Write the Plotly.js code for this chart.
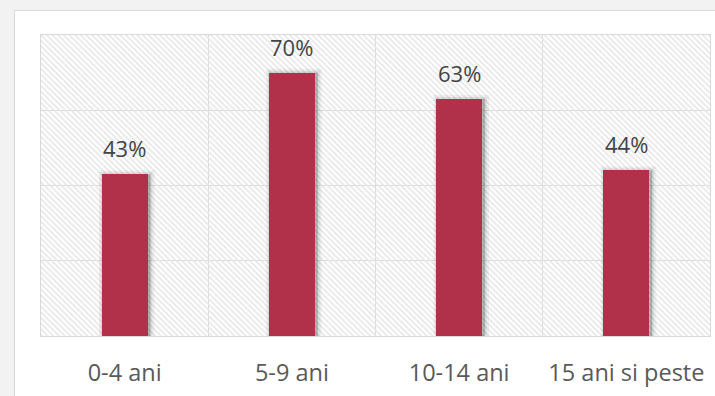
<!DOCTYPE html>
<html>
<head>
<meta charset="utf-8">
<script src="https://cdn.plot.ly/plotly-3.0.1.min.js"></script>
<style>
  html, body { margin:0; padding:0; width:715px; height:396px; overflow:hidden; background:#f2f2f2; }
  #chart { position:absolute; left:14px; top:10px; width:701px; height:386px;
           background:#ffffff; border-left:1px solid #d9d9d9; border-top:1px solid #d9d9d9; }
</style>
</head>
<body>
<div id="chart"></div>
<script>
// ---- data ----
const categories = ["0-4 ani", "5-9 ani", "10-14 ani", "15 ani si peste"];
const values = [43, 70, 63, 44];
const labels = ["43%", "70%", "63%", "44%"];
const yMax = 80;

const pos = categories.map((c, i) => i);
const barColor = "#b1314b";
const barWidth = 0.275;

const background = {
  type: "bar", x: [(pos.length - 1) / 2], y: [yMax], width: [pos.length],
  marker: { color: "rgba(0,0,0,0)", line: { width: 0 },
            pattern: { shape: "\\", fgcolor: "#e6e6e6", bgcolor: "rgba(0,0,0,0)", size: 4, solidity: 0.4 } },
  hoverinfo: "skip", showlegend: false
};
const shadow1 = {
  type: "bar", x: pos, y: values, width: barWidth + 0.01, offset: -barWidth / 2 + 0.008,
  marker: { color: "rgba(0,0,0,0.10)", line: { width: 8, color: "rgba(0,0,0,0.05)" } },
  hoverinfo: "skip", showlegend: false
};
const shadow2 = {
  type: "bar", x: pos, y: values, width: barWidth + 0.01, offset: -barWidth / 2 + 0.006,
  marker: { color: "rgba(0,0,0,0.12)", line: { width: 4, color: "rgba(0,0,0,0.08)" } },
  hoverinfo: "skip", showlegend: false
};
const bars = {
  type: "bar", x: pos, y: values, width: barWidth,
  marker: { color: barColor, line: { width: 0 } },
  hoverinfo: "x+y", showlegend: false
};

const annotations = values.map((v, i) => ({
  x: pos[i], y: v, xref: "x", yref: "y", text: labels[i], showarrow: false,
  yanchor: "bottom", yshift: 9,
  font: { family: "Open Sans", size: 22, color: "#444444" }
}));

const layout = {
  width: 701, height: 386,
  margin: { l: 26, r: 6, t: 24, b: 61 },
  paper_bgcolor: "rgba(0,0,0,0)", plot_bgcolor: "#ffffff",
  barmode: "overlay", bargap: 0,
  showlegend: false,
  xaxis: {
    range: [-0.5, pos.length - 0.5], tickvals: pos, ticktext: categories,
    showgrid: false, zeroline: false, ticks: "",
    showline: true, mirror: true, linecolor: "#d9d9d9", linewidth: 1,
    tickfont: { family: "Open Sans", size: 23.5, color: "#595959" },
    ticklabelstandoff: 16, fixedrange: true
  },
  xaxis2: {
    overlaying: "x", range: [-0.5, pos.length - 0.5],
    tickvals: pos.slice(1).map(p => p - 0.5),
    showgrid: true, gridcolor: "#d9d9d9", gridwidth: 1,
    showticklabels: false, ticks: "", zeroline: false, showline: false
  },
  yaxis: {
    range: [0, yMax], dtick: 20, showticklabels: false, ticks: "",
    showgrid: true, gridcolor: "#d9d9d9", gridwidth: 1, zeroline: false,
    showline: true, mirror: true, linecolor: "#d9d9d9", linewidth: 1, fixedrange: true
  },
  annotations: annotations
};

const gridHelper = { type: "scatter", x: [], y: [], xaxis: "x2", yaxis: "y", hoverinfo: "skip", showlegend: false };

Plotly.newPlot("chart", [gridHelper, background, shadow1, shadow2, bars], layout,
  { displayModeBar: false, staticPlot: true });
</script>
</body>
</html>
